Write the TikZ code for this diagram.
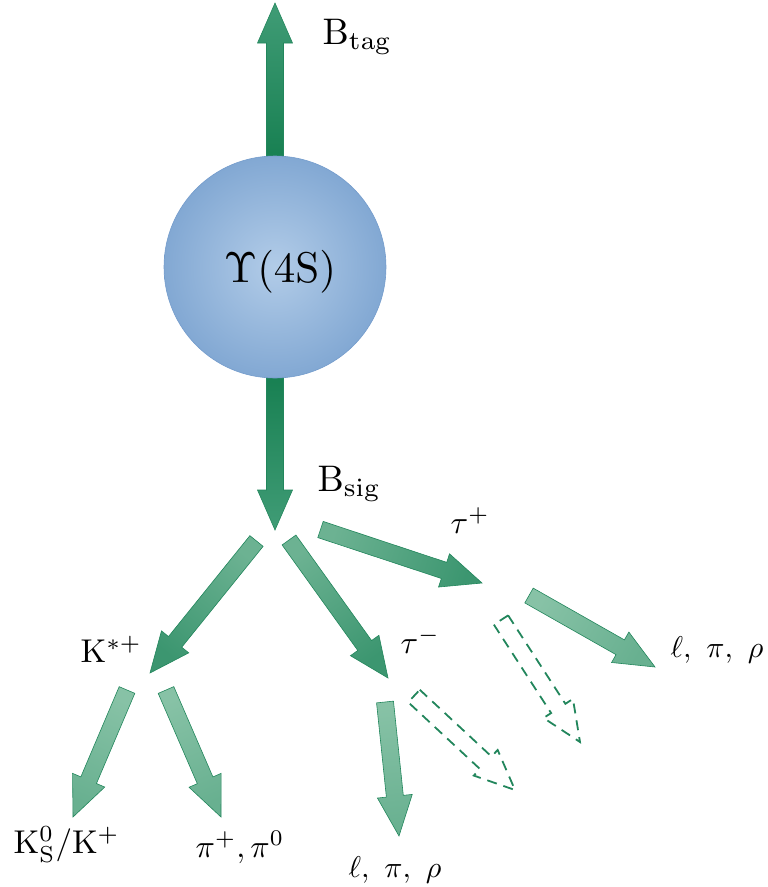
\documentclass[tikz,border=0pt]{standalone}
\usetikzlibrary{calc}
\definecolor{gstroke}{RGB}{34,134,92}
\definecolor{mainA}{RGB}{24,128,82}
\definecolor{mainB}{RGB}{64,156,118}
\definecolor{secA}{RGB}{108,178,146}
\definecolor{secB}{RGB}{60,150,112}
\definecolor{chA}{RGB}{135,194,166}
\definecolor{chB}{RGB}{104,176,144}
\definecolor{ballin}{RGB}{178,204,232}
\definecolor{ballout}{RGB}{130,168,211}
\definecolor{ballline}{RGB}{116,156,204}
\tikzset{
 mainarrow/.style={draw=gstroke, line width=0.6pt, top color=mainA, bottom color=mainB},
 secarrow/.style={draw=gstroke, line width=0.6pt, top color=secA, bottom color=secB},
 charrow/.style={draw=gstroke, line width=0.6pt, top color=chA, bottom color=chB},
 dasharrow/.style={draw=gstroke, line width=1.8pt, dash pattern=on 10pt off 7pt},
 lbl/.style={anchor=base west, inner sep=0pt, text=black, font=\fontsize{10}{12}\selectfont},
}
% #1 style, #2 tail coordinate, #3 tip coordinate
\newcommand\fatarrowpath[3]{%
  \coordinate (hb) at ($(#3)!40pt!(#2)$);
  \path[#1]
    ($(#2)!8.5pt!90:(#3)$) -- ($(hb)!8.5pt!90:(#3)$) -- ($(hb)!17.5pt!90:(#3)$) -- (#3)
    -- ($(hb)!17.5pt!-90:(#3)$) -- ($(hb)!8.5pt!-90:(#3)$) -- ($(#2)!8.5pt!-90:(#3)$) -- cycle;
}
\newcommand\fatarrowb[3]{%
  \pgfmathanglebetweenpoints{\pgfpointanchor{#2}{center}}{\pgfpointanchor{#3}{center}}%
  \pgfmathsetmacro\farsh{\pgfmathresult+90}%
  \fatarrowpath{#1, shading angle=\farsh}{#2}{#3}%
}
\begin{document}
\begin{tikzpicture}[x=1pt,y=-1pt]
\useasboundingbox (0,0) rectangle (768,887);
% coordinates
\coordinate (tagt) at (275,157);
\coordinate (tagtip) at (275,3);
\coordinate (sigt) at (275,377);
\coordinate (sigtip) at (275,530);
\coordinate (kst) at (256.5,541);
\coordinate (kstip) at (150,673);
\coordinate (tmt) at (289,540);
\coordinate (tmtip) at (388,678);
\coordinate (tpt) at (320.5,529.5);
\coordinate (tptip) at (482,583);
\coordinate (rt) at (529,595.5);
\coordinate (rtip) at (655,667);
\coordinate (dpt) at (501,620);
\coordinate (dptip) at (580,742);
\coordinate (dmt) at (414,696);
\coordinate (dmtip) at (515,790);
\coordinate (bt) at (385,702);
\coordinate (btip) at (399,836);
\coordinate (kat) at (127,690);
\coordinate (katip) at (73,817);
\coordinate (kbt) at (166,690);
\coordinate (kbtip) at (221,817);
% arrows
\fatarrowb{mainarrow}{tagt}{tagtip}
\fatarrowb{mainarrow}{sigt}{sigtip}
\node[circle, minimum size=222pt, inner sep=0pt, shading=radial, inner color=ballin, outer color=ballout, draw=ballline, line width=0.6pt] (ups) at (275,267) {};
\node[lbl, scale=4.3] (upst) at (223,282) {$\Upsilon(4\mathrm{S})$};
\fatarrowb{secarrow}{kst}{kstip}
\fatarrowb{secarrow}{tmt}{tmtip}
\fatarrowb{secarrow}{tpt}{tptip}
\fatarrowb{charrow}{rt}{rtip}
\fatarrowb{charrow}{bt}{btip}
\fatarrowb{charrow}{kat}{katip}
\fatarrowb{charrow}{kbt}{kbtip}
\fatarrowpath{dasharrow}{dpt}{dptip}
\fatarrowpath{dasharrow}{dmt}{dmtip}
% labels
\node[lbl, scale=3.7] (btag) at (322,44) {$\mathrm{B}_{\mathrm{tag}}$};
\node[lbl, scale=3.7] (bsig) at (317,491) {$\mathrm{B}_{\mathrm{sig}}$};
\node[lbl, scale=3.2] (taup) at (450,533) {$\tau^+$};
\node[lbl, scale=3.2] (taum) at (400,653) {$\tau^-$};
\node[lbl, scale=3.3] (kstar) at (80,662) {$\mathrm{K}^{*+}$};
\node[lbl, scale=3.0] (lr) at (670,657) {$\ell,\ \pi,\ \rho$};
\node[lbl, scale=3.3] (ks) at (13,853) {$\mathrm{K}^0_{\mathrm{S}}/\mathrm{K}^+$};
\node[lbl, scale=3.2] (pi) at (195,857) {$\pi^+,\pi^0$};
\node[lbl, scale=3.0] (lb) at (348,877) {$\ell,\ \pi,\ \rho$};
\end{tikzpicture}
\end{document}
